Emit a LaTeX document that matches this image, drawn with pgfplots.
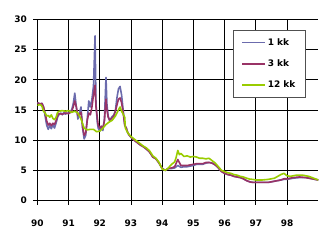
\documentclass[border=0pt]{standalone}
\usepackage{fontspec}
\setmainfont{DejaVu Sans}
\usepackage{pgfplots}
\pgfplotsset{compat=1.18}
\definecolor{cblue}{HTML}{6B6BAD}
\definecolor{cred}{HTML}{993366}
\definecolor{cgreen}{HTML}{99CC00}
\definecolor{lgray}{HTML}{505050}
\begin{document}
\begin{tikzpicture}
\path[use as bounding box] (0,0) rectangle (330bp,247bp);
\begin{axis}[
  at={(37.3bp,46.5bp)}, anchor=south west,
  scale only axis, width=281bp, height=181bp,
  xmin=90, xmax=99, ymin=0, ymax=30,
  xtick={90,91,...,98}, ytick={0,5,...,30},
  axis lines=left, axis line style={-, black, line width=0.9bp},
  grid=major, major grid style={black, line width=0.8bp},
  tick align=outside, major tick length=4bp,
  tick style={black, line width=0.9bp},
  /pgf/number format/assume math mode=true,
  ticklabel style={font=\bfseries\fontsize{9}{10}\selectfont},
  xticklabel style={yshift=-12bp},
  yticklabel style={xshift=-3bp},
  legend style={at={(0.6975,0.942)}, anchor=north west, draw=lgray, line width=0.8bp,
    font=\bfseries\fontsize{9}{10}\selectfont, row sep=9bp, inner xsep=8bp, inner ysep=6bp,
    cells={anchor=west}},
  legend image code/.code={\draw[#1, line width=1.5bp] (0cm,0cm) -- (0.8cm,0cm);},
  every axis plot/.append style={line width=1.6bp, line join=round},
]
\addplot[cblue] coordinates {
(90.00,16.2)(90.05,16.1)(90.10,16.0)(90.15,16.1)(90.20,15.5)(90.25,14.0)(90.30,12.5)(90.35,11.8)(90.40,12.4)(90.45,11.9)(90.50,12.6)(90.55,12.0)(90.60,12.8)(90.65,13.8)(90.70,14.3)(90.75,14.5)(90.80,14.2)(90.85,14.6)(90.90,14.3)(90.95,14.5)
(91.00,14.4)(91.05,14.8)(91.10,15.0)(91.15,16.0)(91.20,17.8)(91.25,15.5)(91.30,13.5)(91.35,14.5)(91.40,15.5)(91.45,12.0)(91.50,10.2)(91.55,10.8)(91.60,13.5)(91.65,16.5)(91.70,15.5)(91.75,16.8)(91.80,19.0)(91.85,27.3)(91.88,16.0)(91.92,13.0)(91.95,12.0)
(92.00,11.5)(92.05,12.3)(92.10,11.6)(92.15,13.5)(92.20,20.4)(92.23,16.0)(92.27,14.0)(92.32,13.2)(92.38,13.8)(92.45,14.2)(92.50,14.8)(92.55,17.0)(92.60,18.5)(92.65,18.9)(92.70,17.5)(92.75,15.0)(92.80,12.5)(92.85,12.0)(92.90,11.2)(92.95,10.8)
(93.00,10.5)(93.10,10.0)(93.20,9.6)(93.30,9.2)(93.40,8.9)(93.50,8.5)(93.60,8.0)(93.70,7.2)(93.80,6.9)(93.90,6.2)
(94.00,5.3)(94.10,5.0)(94.20,5.3)(94.30,5.3)(94.40,5.4)(94.50,5.8)(94.60,5.5)(94.70,5.6)(94.80,5.6)(94.90,5.7)
(95.00,5.8)(95.10,6.0)(95.20,6.0)(95.30,6.0)(95.40,6.2)(95.50,6.3)(95.60,6.2)(95.70,5.9)(95.80,5.4)(95.90,4.8)
(96.00,4.5)(96.10,4.3)(96.20,4.2)(96.30,4.0)(96.40,3.9)(96.50,3.8)(96.60,3.6)(96.70,3.3)(96.80,3.1)(96.90,3.0)
(97.00,3.0)(97.20,3.0)(97.40,3.0)(97.60,3.2)(97.80,3.4)(97.90,3.5)(98.00,3.5)(98.20,3.7)(98.40,3.8)(98.60,3.8)(98.80,3.6)(99.00,3.4)
};
\addlegendentry{1 kk}
\addplot[cred] coordinates {
(90.00,16.2)(90.10,16.0)(90.15,16.1)(90.20,15.5)(90.25,14.5)(90.30,13.2)(90.35,12.5)(90.40,12.8)(90.45,12.4)(90.50,12.8)(90.55,12.6)(90.60,13.2)(90.65,14.1)(90.70,14.4)(90.80,14.3)(90.90,14.5)
(91.00,14.4)(91.10,14.7)(91.15,15.5)(91.20,16.5)(91.25,15.5)(91.30,14.1)(91.35,14.3)(91.40,14.6)(91.45,12.3)(91.50,10.8)(91.55,11.2)(91.60,13.3)(91.65,14.5)(91.70,14.2)(91.75,15.5)(91.80,17.5)(91.85,19.1)(91.88,15.5)(91.92,13.8)(91.95,12.5)
(92.00,12.0)(92.05,12.3)(92.10,12.0)(92.15,13.2)(92.20,16.8)(92.23,15.0)(92.27,13.8)(92.32,13.3)(92.38,13.6)(92.45,14.0)(92.50,14.8)(92.55,15.8)(92.60,16.8)(92.65,17.0)(92.70,16.2)(92.75,14.6)(92.80,12.5)(92.85,12.0)(92.90,11.2)(92.95,10.8)
(93.00,10.5)(93.10,10.0)(93.20,9.6)(93.30,9.2)(93.40,8.9)(93.50,8.5)(93.60,8.0)(93.70,7.2)(93.80,6.9)(93.90,6.2)
(94.00,5.3)(94.10,5.0)(94.20,5.3)(94.30,5.4)(94.40,5.6)(94.50,6.8)(94.60,5.8)(94.70,5.8)(94.80,5.8)(94.90,5.9)
(95.00,6.0)(95.10,6.1)(95.20,6.1)(95.30,6.1)(95.40,6.3)(95.50,6.3)(95.60,6.2)(95.70,5.9)(95.80,5.4)(95.90,4.8)
(96.00,4.5)(96.10,4.3)(96.20,4.2)(96.30,4.0)(96.40,3.9)(96.50,3.8)(96.60,3.6)(96.70,3.3)(96.80,3.1)(96.90,3.0)
(97.00,3.0)(97.20,3.0)(97.40,3.0)(97.60,3.2)(97.80,3.4)(97.90,3.6)(98.00,3.6)(98.20,3.8)(98.40,3.9)(98.60,3.8)(98.80,3.6)(99.00,3.4)
};
\addlegendentry{3 kk}
\addplot[cgreen] coordinates {
(90.00,15.8)(90.10,15.9)(90.15,15.6)(90.20,14.8)(90.25,14.5)(90.30,14.0)(90.35,14.1)(90.40,13.8)(90.45,14.2)(90.50,13.6)(90.55,13.4)(90.60,13.8)(90.65,14.6)(90.70,14.8)(90.80,14.9)(90.90,14.8)
(91.00,14.9)(91.10,14.6)(91.20,14.8)(91.30,14.5)(91.40,13.5)(91.50,12.0)(91.60,11.7)(91.70,11.8)(91.80,11.8)(91.90,11.4)
(92.00,11.5)(92.10,12.0)(92.20,12.6)(92.30,13.0)(92.40,13.3)(92.50,14.0)(92.55,14.5)(92.60,15.0)(92.65,15.5)(92.70,14.8)(92.75,14.3)(92.80,13.8)(92.82,12.0)(92.90,11.2)
(93.00,10.6)(93.10,10.2)(93.20,9.8)(93.30,9.4)(93.40,9.0)(93.50,8.7)(93.60,8.2)(93.70,7.4)(93.80,7.0)(93.90,6.3)
(94.00,5.2)(94.10,5.0)(94.20,5.4)(94.30,6.0)(94.40,6.4)(94.45,7.2)(94.50,8.3)(94.55,7.6)(94.60,7.8)(94.70,7.3)(94.80,7.4)(94.90,7.2)
(95.00,7.3)(95.10,7.2)(95.20,7.0)(95.30,7.0)(95.40,6.9)(95.50,7.0)(95.60,6.6)(95.70,6.2)(95.80,5.6)(95.90,5.0)
(96.00,4.8)(96.10,4.6)(96.20,4.5)(96.30,4.3)(96.40,4.2)(96.50,4.0)(96.60,3.9)(96.70,3.7)(96.80,3.55)(96.90,3.5)
(97.00,3.4)(97.20,3.4)(97.40,3.5)(97.60,3.7)(97.70,4.0)(97.80,4.3)(97.90,4.5)(98.00,4.1)(98.10,4.0)(98.20,4.1)(98.30,4.2)(98.50,4.2)(98.70,4.0)(98.90,3.6)(99.00,3.4)
};
\addlegendentry{12 kk}
\end{axis}
\end{tikzpicture}
\end{document}
